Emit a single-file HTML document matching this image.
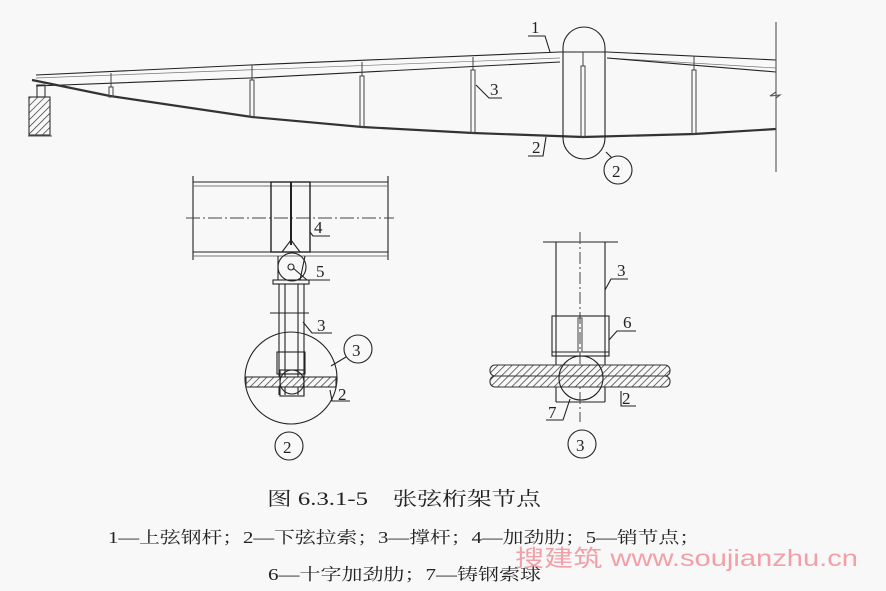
<!DOCTYPE html>
<html><head><meta charset="utf-8"><style>
html,body{margin:0;padding:0;background:#f8f8f8;}
svg{display:block}
</style></head><body>
<svg width="886" height="591" viewBox="0 0 886 591" xmlns="http://www.w3.org/2000/svg">
<defs>
<pattern id="h" width="5" height="5" patternUnits="userSpaceOnUse" patternTransform="rotate(45)">
<rect width="5" height="5" fill="#f8f8f8"/><line x1="0" y1="0" x2="0" y2="5" stroke="#333" stroke-width="1.4"/></pattern>
</defs>
<rect width="886" height="591" fill="#f8f8f8"/>
<g fill="none" stroke="#222" stroke-width="1.1" font-family="Liberation Serif, serif">
<polyline points="36,75 250,65 560,52 607,52 776,60"/>
<polyline points="36,78 560,58" stroke="#777" stroke-width="0.7"/>
<polyline points="607,58 776,68" stroke="#777" stroke-width="0.7"/>
<polyline points="36,86 250,78 560,62"/>
<polyline points="607,58 776,72"/>
<polyline points="32,80 110,96 252,117 362,127 473,133 583,137 694,134 776,129" stroke="#333" stroke-width="2.2"/>
<g stroke="#444" stroke-width="1">
<rect x="109" y="87" width="4" height="10"/>
<line x1="111" y1="73" x2="111" y2="87"/>
<rect x="250" y="80" width="4" height="37"/><line x1="252" y1="65" x2="252" y2="80"/>
<rect x="360" y="76" width="4" height="51"/><line x1="362" y1="62" x2="362" y2="76"/>
<rect x="471" y="70" width="4" height="63"/><line x1="473" y1="57" x2="473" y2="70"/>
<rect x="581" y="66" width="4" height="71"/><line x1="583" y1="52" x2="583" y2="66"/>
<rect x="692" y="70" width="4" height="64"/><line x1="694" y1="56" x2="694" y2="70"/>
</g>
<rect x="29" y="97" width="21" height="38" fill="url(#h)" stroke="#333"/>
<rect x="37" y="85" width="8" height="12" stroke="#333"/>
<line x1="28" y1="136" x2="52" y2="136" stroke="#555"/>
<rect x="563" y="27" width="42" height="132" rx="21" ry="21"/>
<line x1="606" y1="152" x2="612" y2="158"/>
<circle cx="618" cy="170" r="14"/>
<text x="612" y="177" font-size="17" fill="#222" stroke="none">2</text>
<line x1="776" y1="22" x2="776" y2="172" stroke="#555"/>
<polyline points="776,92 770,96 780,95 776,98" stroke="#555"/>
<text x="531" y="33" font-size="17" fill="#222" stroke="none">1</text>
<polyline points="528,36 545,36 550,52"/>
<text x="490" y="95" font-size="17" fill="#222" stroke="none">3</text>
<polyline points="476,85 489,98 502,98"/>
<text x="532" y="153" font-size="17" fill="#222" stroke="none">2</text>
<polyline points="528,156 543,156 546,137"/>

<line x1="193" y1="176" x2="193" y2="260"/>
<line x1="388" y1="176" x2="388" y2="260"/>
<line x1="193" y1="182" x2="388" y2="182"/>
<line x1="193" y1="186" x2="388" y2="186" stroke="#777"/>
<line x1="193" y1="252" x2="388" y2="252"/>
<line x1="193" y1="256" x2="388" y2="256" stroke="#777"/>
<line x1="186" y1="218" x2="394" y2="218" stroke-dasharray="14,3,2,3" stroke="#444"/>
<rect x="271" y="182" width="39" height="70" stroke-width="1.4"/>
<line x1="291" y1="182" x2="291" y2="245" stroke-width="2"/>
<polyline points="282,252 291,240 300,252"/>
<polyline points="278,256 278,280 300,280 305,256"/>
<circle cx="292" cy="267" r="14"/>
<circle cx="291" cy="267" r="3"/>
<rect x="273" y="280" width="36" height="4"/>
<line x1="279" y1="284" x2="279" y2="395"/>
<line x1="285" y1="284" x2="285" y2="395"/>
<line x1="298" y1="284" x2="298" y2="395"/>
<line x1="304" y1="284" x2="304" y2="395"/>
<line x1="270" y1="313" x2="309" y2="313"/>
<circle cx="291" cy="378" r="46"/>
<rect x="277" y="352" width="28" height="22"/>
<rect x="246" y="377" width="90" height="10" fill="url(#h)" stroke="#333"/>
<circle cx="292" cy="382" r="12"/>
<rect x="280" y="370" width="24" height="26"/>
<text x="314" y="233" font-size="17" fill="#222" stroke="none">4</text>
<polyline points="310,232 313,236 330,236"/>
<text x="316" y="277" font-size="17" fill="#222" stroke="none">5</text>
<polyline points="293,268 307,280 330,280"/>
<text x="317" y="331" font-size="17" fill="#222" stroke="none">3</text>
<polyline points="303,322 312,333 332,333"/>
<circle cx="358" cy="349" r="14"/>
<text x="352" y="356" font-size="17" fill="#222" stroke="none">3</text>
<line x1="346" y1="357" x2="331" y2="366"/>
<text x="338" y="400" font-size="17" fill="#222" stroke="none">2</text>
<polyline points="330,390 332,401 350,401"/>
<circle cx="289" cy="446" r="14"/>
<text x="283" y="453" font-size="17" fill="#222" stroke="none">2</text>

<line x1="543" y1="242" x2="618" y2="242"/>
<line x1="556" y1="242" x2="556" y2="402"/>
<line x1="605" y1="242" x2="605" y2="402"/>
<line x1="556" y1="402" x2="605" y2="402"/>
<line x1="580" y1="232" x2="580" y2="422" stroke-dasharray="12,3,2,3" stroke="#555"/>
<rect x="552" y="316" width="57" height="40"/>
<line x1="552" y1="352" x2="609" y2="352"/>
<rect x="578" y="318" width="4" height="34" stroke="#555"/>
<rect x="490" y="365" width="180" height="11" rx="5" fill="url(#h)" stroke="#333"/>
<rect x="490" y="376" width="180" height="11" rx="5" fill="url(#h)" stroke="#333"/>
<circle cx="581" cy="378" r="22" fill="none"/>
<text x="617" y="276" font-size="17" fill="#222" stroke="none">3</text>
<polyline points="605,290 611,279 628,279"/>
<text x="623" y="328" font-size="17" fill="#222" stroke="none">6</text>
<polyline points="609,340 617,331 636,331"/>
<text x="622" y="404" font-size="17" fill="#222" stroke="none">2</text>
<polyline points="621,391 621,406 636,406"/>
<text x="548" y="418" font-size="17" fill="#222" stroke="none">7</text>
<polyline points="570,399 563,420 546,420"/>
<circle cx="582" cy="444" r="14"/>
<text x="576" y="451" font-size="17" fill="#222" stroke="none">3</text>
</g>
<g font-family="Liberation Serif, 'Noto Serif CJK SC', serif" fill="#222">
<text x="267" y="505" font-size="19" textLength="274" lengthAdjust="spacingAndGlyphs">图 6.3.1-5　张弦桁架节点</text>
<text x="108" y="543" font-size="16.5" textLength="592" lengthAdjust="spacingAndGlyphs">1—上弦钢杆；2—下弦拉索；3—撑杆；4—加劲肋；5—销节点；</text>
<text x="268" y="580" font-size="16.5" textLength="273" lengthAdjust="spacingAndGlyphs">6—十字加劲肋；7—铸钢索球</text>
</g>
<text x="515" y="566" font-family="Liberation Sans, 'Noto Sans CJK SC', sans-serif" font-size="23" fill="#f2a0a8" textLength="343" lengthAdjust="spacingAndGlyphs">搜建筑 www.soujianzhu.cn</text>
</svg>
</body></html>
